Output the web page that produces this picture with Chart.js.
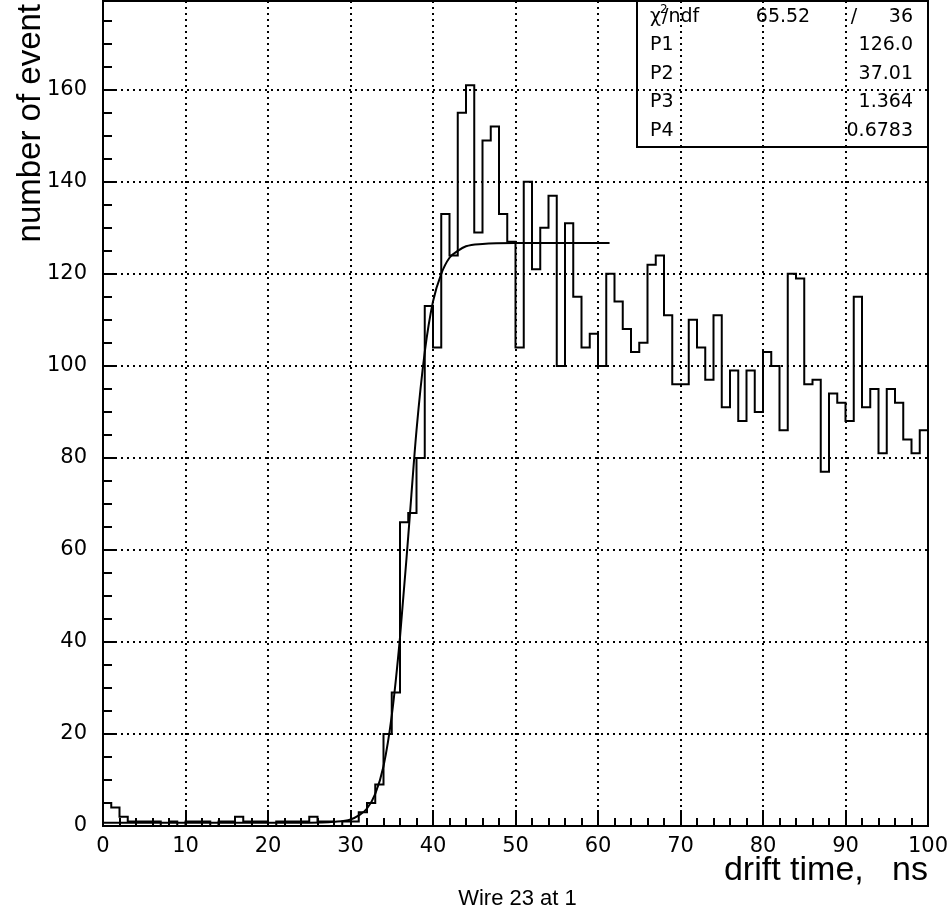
<!DOCTYPE html>
<html>
<head>
<meta charset="utf-8">
<script src="https://cdn.jsdelivr.net/npm/chart.js@4.4.0/dist/chart.umd.min.js"></script>
<style>
  html, body { margin: 0; padding: 0; background: #fff; }
</style>
</head>
<body>
<canvas id="myChart" width="950" height="911"></canvas>
<script>
// histogram contents, one count per 1 ns bin (0..100 ns)
const binWidth = 1;
const binCounts = [
    5, 4, 2, 1, 1, 1, 1, 0, 1, 0,
    1, 1, 1, 0, 1, 1, 2, 1, 1, 1,
    0, 1, 1, 1, 1, 2, 1, 1, 0, 1,
    1, 3, 5, 9, 20, 29, 66, 68, 80, 113,
    104, 133, 124, 155, 161, 129, 149, 152, 133, 127,
    104, 140, 121, 130, 137, 100, 131, 115, 104, 107,
    100, 120, 114, 108, 103, 105, 122, 124, 111, 96,
    96, 110, 104, 97, 111, 91, 99, 88, 99, 90,
    103, 100, 86, 120, 119, 96, 97, 77, 94, 92,
    88, 115, 91, 95, 81, 95, 92, 84, 81, 86
];

// fit curve
const fitX = [0, 10, 20, 25, 28, 30, 31, 32, 33, 34, 35, 36, 37, 38, 39, 40, 41, 42, 43, 44, 46, 50, 55, 61.4];
const fitY = [0.7, 0.7, 0.7, 0.7, 0.9, 1.4, 2.3, 3.8, 7, 13, 24, 41, 63, 86, 103, 114, 120, 123.5, 125, 126, 126.5, 126.7, 126.7, 126.7];

// stats box
const chiLabel = 'ndf';
const chiValues = ['65.52', '/', '36'];
const parNames = ['P1', 'P2', 'P3', 'P4'];
const parValues = ['126.0', '37.01', '1.364', '0.6783'];

const yTitle = 'number of event';
const caption = 'Wire 23 at 1';

const xMin = 0, xMax = 100, xMajor = 10, xMinor = 2;
const yMin = 0, yMax = 179.3, yMajor = 20, yMinor = 5;

const histPoints = binCounts.map((c, i) => ({ x: i * binWidth, y: c }));
histPoints.push({ x: binCounts.length * binWidth, y: binCounts[binCounts.length - 1] });
const fitPoints = fitX.map((x, i) => ({ x: x, y: fitY[i] }));

// frame, inner ticks, stats box, captions
const pawDecor = {
    id: 'pawDecor',
    afterDraw(chart) {
        const { ctx, chartArea: ca, scales } = chart;
        const sx = scales.x, sy = scales.y;
        ctx.save();
        ctx.strokeStyle = '#000';
        ctx.lineWidth = 2;
        ctx.strokeRect(ca.left, ca.top, ca.right - ca.left, ca.bottom - ca.top);

        ctx.beginPath();
        for (let v = xMin; v <= xMax; v += xMinor) {
            const px = Math.round(sx.getPixelForValue(v));
            const len = v % xMajor === 0 ? 16 : 8;
            ctx.moveTo(px, ca.bottom);
            ctx.lineTo(px, ca.bottom - len);
        }
        for (let v = yMin; v <= yMax; v += yMinor) {
            const py = Math.round(sy.getPixelForValue(v));
            const len = v % yMajor === 0 ? 12 : 9;
            ctx.moveTo(ca.left, py);
            ctx.lineTo(ca.left + len, py);
        }
        ctx.stroke();

        // stats box
        const bx = ca.right - 291, by = ca.top, bw = 291, bh = 146;
        ctx.strokeRect(bx, by, bw, bh);
        ctx.fillStyle = '#000';
        ctx.textBaseline = 'middle';
        ctx.font = '19px "DejaVu Sans"';
        const rowY = [16, 44.5, 73, 101.5, 130];
        const left = bx + 13, right = ca.right - 15;
        ctx.textAlign = 'left';
        ctx.fillText('\u03c7', left, by + rowY[0]);
        const wChi = ctx.measureText('\u03c7').width;
        ctx.font = '12px "DejaVu Sans"';
        ctx.fillText('2', left + wChi - 1, by + rowY[0] - 7);
        ctx.font = '19px "DejaVu Sans"';
        ctx.fillText('/' + chiLabel, left + wChi + 1, by + rowY[0]);
        ctx.textAlign = 'center';
        ctx.fillText(chiValues[0], bx + 146, by + rowY[0]);
        ctx.fillText(chiValues[1], bx + 217, by + rowY[0]);
        ctx.textAlign = 'right';
        ctx.fillText(chiValues[2], right, by + rowY[0]);
        parNames.forEach((name, i) => {
            ctx.textAlign = 'left';
            ctx.fillText(name, left, by + rowY[i + 1]);
            ctx.textAlign = 'right';
            ctx.fillText(parValues[i], right, by + rowY[i + 1]);
        });

        // y axis title, rotated, ending near the top edge
        ctx.save();
        ctx.translate(40, 4);
        ctx.rotate(-Math.PI / 2);
        ctx.textAlign = 'right';
        ctx.textBaseline = 'alphabetic';
        ctx.font = '33px "Liberation Sans"';
        ctx.fillText(yTitle, 0, 0);
        ctx.restore();

        ctx.textAlign = 'center';
        ctx.font = '22px "Liberation Sans"';
        ctx.fillText(caption, (ca.left + ca.right) / 2 + 2, 899);
        ctx.restore();
    }
};

function noPad(s) {
    s.paddingTop = 0;
    s.paddingBottom = 0;
    s.paddingLeft = 0;
    s.paddingRight = 0;
}

const config = {
    type: 'line',
    data: {
        datasets: [
            {
                data: histPoints,
                stepped: 'before',
                borderColor: '#000',
                borderWidth: 2,
                pointRadius: 0,
                fill: false
            },
            {
                data: fitPoints,
                borderColor: '#000',
                borderWidth: 2,
                pointRadius: 0,
                fill: false,
                cubicInterpolationMode: 'monotone'
            }
        ]
    },
    options: {
        responsive: false,
        animation: false,
        layout: { autoPadding: false, padding: { top: 1, right: 22, left: 0, bottom: 0 } },
        plugins: {
            legend: { display: false },
            tooltip: { enabled: false },
            title: { display: false }
        },
        scales: {
            x: {
                type: 'linear',
                min: xMin,
                max: xMax,
                afterFit: (s) => { s.height = 85; noPad(s); },
                ticks: {
                    stepSize: xMajor,
                    includeBounds: false,
                    autoSkip: false,
                    maxRotation: 0,
                    padding: 8,
                    color: '#000',
                    font: { family: 'DejaVu Sans', size: 21 }
                },
                grid: { color: '#000', lineWidth: 2, drawTicks: false },
                border: { display: false, dash: [2, 4] },
                title: {
                    display: true,
                    text: 'drift time,   ns',
                    align: 'end',
                    color: '#000',
                    font: { family: 'Liberation Sans', size: 34 },
                    padding: { top: 0, bottom: 20 }
                }
            },
            y: {
                type: 'linear',
                min: yMin,
                max: yMax,
                afterFit: (s) => { s.width = 103; noPad(s); },
                ticks: {
                    stepSize: yMajor,
                    includeBounds: false,
                    padding: 16,
                    color: '#000',
                    font: { family: 'DejaVu Sans', size: 21 }
                },
                grid: { color: '#000', lineWidth: 2, drawTicks: false },
                border: { display: false, dash: [2, 4] },
                title: { display: false }
            }
        }
    },
    plugins: [pawDecor]
};

new Chart(document.getElementById('myChart'), config);
</script>
</body>
</html>
